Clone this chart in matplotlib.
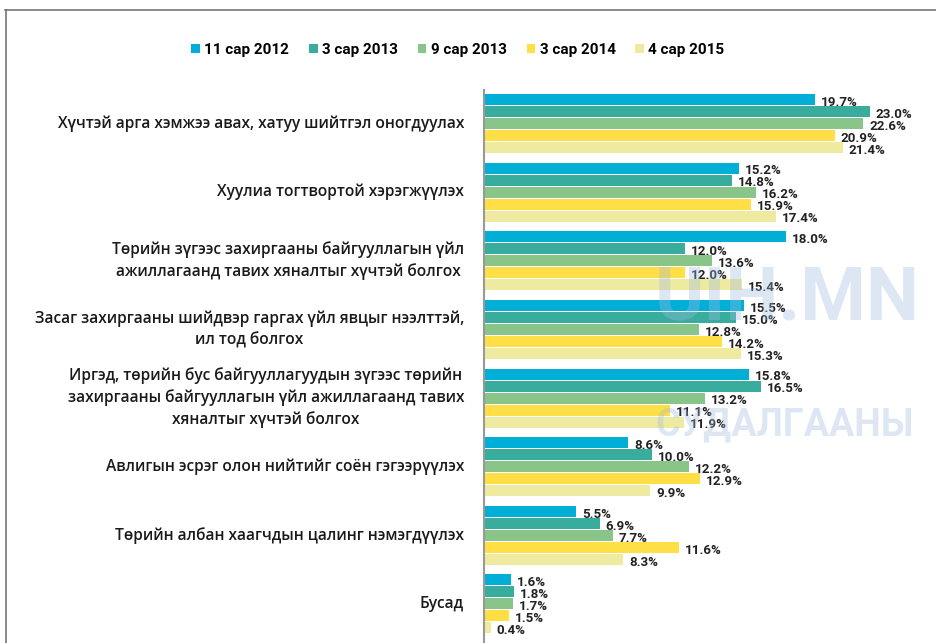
import numpy as np
import matplotlib
matplotlib.use('Agg')
import matplotlib.pyplot as plt
from matplotlib.patches import Patch
from matplotlib.lines import Line2D

categories = [
    'Хүчтэй арга хэмжээ авах, хатуу шийтгэл оногдуулах',
    'Хуулиа тогтвортой хэрэгжүүлэх',
    'Төрийн зүгээс захиргааны байгууллагын үйл\nажиллагаанд тавих хяналтыг хүчтэй болгох',
    'Засаг захиргааны шийдвэр гаргах үйл явцыг нээлттэй,\nил тод болгох',
    'Иргэд, төрийн бус байгууллагуудын зүгээс төрийн\nзахиргааны байгууллагын үйл ажиллагаанд тавих\nхяналтыг хүчтэй болгох',
    'Авлигын эсрэг олон нийтийг соён гэгээрүүлэх',
    'Төрийн албан хаагчдын цалинг нэмэгдүүлэх',
    'Бусад',
]
series_names = ['11 сар 2012', '3 сар 2013', '9 сар 2013', '3 сар 2014', '4 сар 2015']
s_2012_11 = [19.7, 15.2, 18.0, 15.5, 15.8, 8.6, 5.5, 1.6]
s_2013_03 = [23.0, 14.8, 12.0, 15.0, 16.5, 10.0, 6.9, 1.8]
s_2013_09 = [22.6, 16.2, 13.6, 12.8, 13.2, 12.2, 7.7, 1.7]
s_2014_03 = [20.9, 15.9, 12.0, 14.2, 11.1, 12.9, 11.6, 1.5]
s_2015_04 = [21.4, 17.4, 15.4, 15.3, 11.9, 9.9, 8.3, 0.4]
series = [s_2012_11, s_2013_03, s_2013_09, s_2014_03, s_2015_04]
colors = ['#00AED6', '#38AD9E', '#89C489', '#FFDE46', '#EEEAA0']

label_font = ['Open Sans', 'DejaVu Sans']
num_font = ['Roboto', 'DejaVu Sans']

W, H = 937, 643
fig = plt.figure(figsize=(W / 100, H / 100), dpi=100)
fig.patch.set_facecolor('white')

ax = fig.add_axes([484 / W, 0, 1 - 484 / W, 1 - 90 / H])
y = np.arange(len(categories))
step = 0.175
for i, vals in enumerate(series):
    pos = y - 2 * step + i * step
    ax.barh(pos, vals, height=0.16, color=colors[i], zorder=2)
    for p, v in zip(pos, vals):
        ax.text(v + 0.35, p + 0.04, f'{v:.1f}%', va='center', ha='left',
                fontsize=9.6, family=num_font, fontweight='bold',
                color='#222222', zorder=5)

ax.set_xlim(0, 27)
ax.set_ylim(7.57, -0.49)
ax.set_xticks([])
ax.set_yticks([])
for s in ['top', 'right', 'bottom']:
    ax.spines[s].set_visible(False)
ax.spines['left'].set_color('#999999')
ax.spines['left'].set_linewidth(1.5)

# category labels
for yi, cat in zip(y, categories):
    ax.annotate(cat, xy=(0, yi), xycoords=('axes fraction', 'data'),
                xytext=(-20, 0), textcoords='offset pixels',
                ha='right', va='center', multialignment='center',
                fontsize=11.2, family=label_font, fontweight='semibold',
                color='#1a1a1a', linespacing=1.4, annotation_clip=False)

# legend
handles = [Patch(facecolor=c, edgecolor='none') for c in colors]
fig.legend(handles, series_names, loc='center', bbox_to_anchor=(458 / W, 1 - 50 / H),
           ncol=5, frameon=False, handlelength=0.55, handleheight=0.55,
           handletextpad=0.3, columnspacing=1.3,
           prop={'family': num_font, 'weight': 'bold', 'size': 11})

# watermark
fig.text(655 / W, 1 - 300 / H, 'UIH.MN', fontsize=54, fontweight='bold',
         family=num_font, color='#9FBCE0', alpha=0.35, va='center', ha='left', zorder=3)
fig.text(655 / W, 1 - 425 / H, 'СУДАЛГААНЫ', fontsize=27, fontweight='bold',
         family=num_font, color='#9FBCE0', alpha=0.35, va='center', ha='left', zorder=3)

# frame
fig.add_artist(Line2D([5 / W, 1], [1 - 10 / H, 1 - 10 / H], color='#777777', lw=1.2))
fig.add_artist(Line2D([6 / W, 6 / W], [0, 1 - 10 / H], color='#777777', lw=1.2))

fig.savefig('out.png', dpi=100, facecolor='white')
